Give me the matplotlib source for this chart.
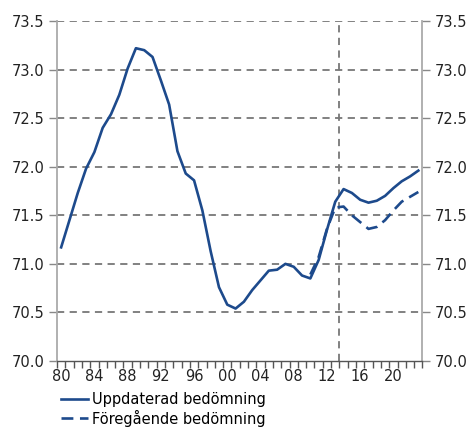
import numpy as np
import matplotlib
matplotlib.use('Agg')
import matplotlib.pyplot as plt

years = np.arange(1980, 2024)
updated = [71.17, 71.45, 71.73, 71.98, 72.15, 72.40, 72.54, 72.74, 73.01, 73.22,
           73.20, 73.13, 72.89, 72.64, 72.16, 71.93, 71.86, 71.55, 71.13, 70.76,
           70.58, 70.54, 70.61, 70.73, 70.83, 70.93, 70.94, 71.00, 70.97, 70.88,
           70.85, 71.04, 71.35, 71.64, 71.77, 71.73, 71.66, 71.63, 71.65, 71.70,
           71.78, 71.85, 71.90, 71.96]
prev_years = np.arange(2010, 2024)
previous = [70.89, 71.07, 71.36, 71.58, 71.59, 71.50, 71.43, 71.36, 71.38, 71.45,
            71.55, 71.64, 71.69, 71.74]
split_year = 2013.5
yticks = [70.0, 70.5, 71.0, 71.5, 72.0, 72.5, 73.0, 73.5]
xlabels = ['80', '84', '88', '92', '96', '00', '04', '08', '12', '16', '20']

blue = '#1d4a8c'
grey = '#777777'
fs = 10.5

fig = plt.figure(figsize=(4.71, 4.29), dpi=100)
ax = fig.add_axes([0.121, 0.1585, 0.776, 0.7925])

for y in yticks[1:]:
    ax.axhline(y, color=grey, lw=1.3, dashes=(4, 3), zorder=1)
ax.axvline(split_year, color=grey, lw=1.3, dashes=(4, 3), zorder=1)

l1, = ax.plot(years, updated, color=blue, lw=1.9, zorder=3,
              solid_joinstyle='round')
l2, = ax.plot(prev_years, previous, color=blue, lw=1.9, dashes=(4.5, 2.5),
              zorder=3)

ax.set_xlim(1979.5, 2023.5)
ax.set_ylim(70.0, 73.5)

ax.set_xticks(np.arange(1980, 2024, 4))
ax.set_xticklabels(xlabels)
ax.set_xticks(np.arange(1979.5, 2024, 1), minor=True)
ax.tick_params(axis='x', which='major', length=0, pad=6, labelsize=fs,
               colors='#222222')
ax.tick_params(axis='x', which='minor', length=5, width=1, color='#555555')

ax.set_yticks(yticks)
ax.set_yticklabels([f'{v:.1f}' for v in yticks])
ax.tick_params(axis='y', which='major', length=6, width=1, color='#888888',
               labelsize=fs, labelcolor='#222222', left=True, right=True,
               labelleft=True, labelright=True, pad=3)

ax.spines['top'].set_visible(False)
for s in ['left', 'right']:
    ax.spines[s].set_color('#aaaaaa')
    ax.spines[s].set_linewidth(1.3)
ax.spines['bottom'].set_color('#555555')
ax.spines['bottom'].set_linewidth(1)

fig.legend([l1, l2], ['Uppdaterad bedömning', 'Föregående bedömning'],
           loc='lower left', bbox_to_anchor=(0.118, -0.008), frameon=False,
           fontsize=fs, handlelength=1.8, handletextpad=0.3,
           labelspacing=0.2, borderaxespad=0)

fig.savefig('out.png', dpi=100)
